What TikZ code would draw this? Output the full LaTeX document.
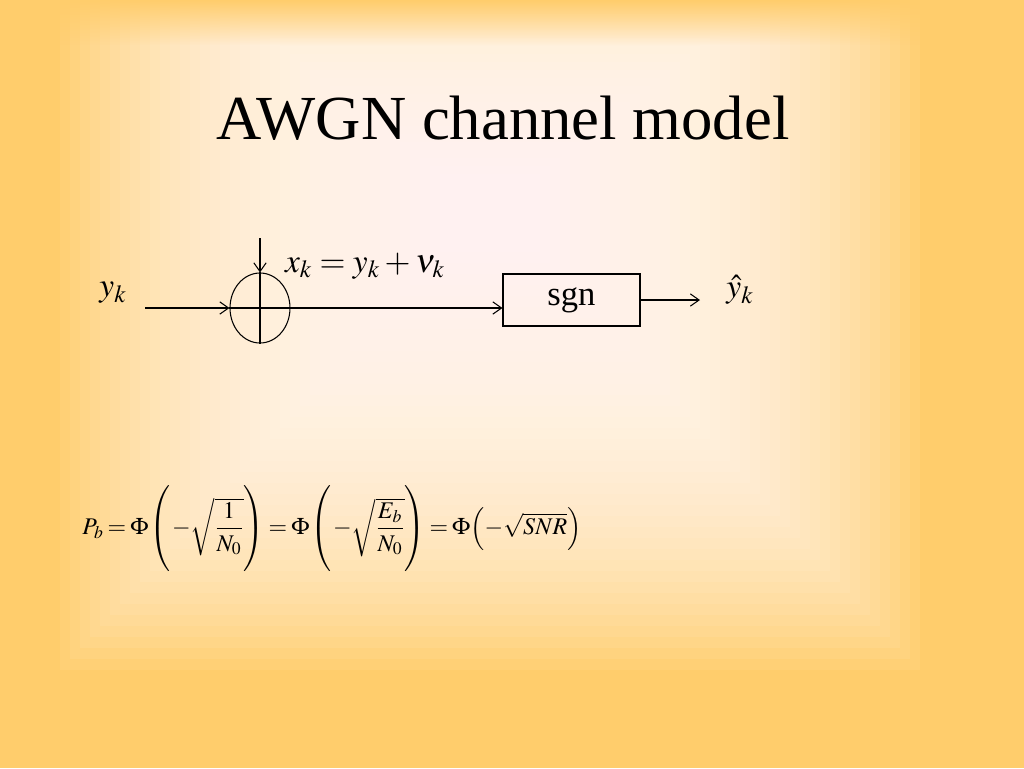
\documentclass[tikz,border=0pt]{standalone}
\usepackage{mathptmx}
\usepackage[no-math]{fontspec}
\setmainfont{Liberation Serif}
\usepackage{color}
\usepackage{tikz}
\usetikzlibrary{arrows,arrows.meta,shapes.geometric,fadings}
\definecolor{slidebg}{RGB}{255,205,108}

\begin{document}
\begin{tikzpicture}[x=0.02cm,y=-0.02cm,->,>={Straight Barb[length=5pt,width=7pt]},line width=0.6pt]
\tikzstyle{every node}=[inner sep=0pt]
\tikzstyle{titletext}=[font=\fontsize{35.7}{40}\selectfont]
\tikzstyle{mathtext}=[font=\fontsize{19}{22}\selectfont]
\tikzstyle{summer}=[draw,ellipse,minimum width=1.2cm,minimum height=1.4cm]
\tikzstyle{blockbox}=[draw,rectangle,minimum width=2.74cm,minimum height=1.04cm]

\useasboundingbox (0,0) rectangle (1024,768);
% slide background
\begin{scope}[-]
\clip (0,0) rectangle (1024,768);
\fill[slidebg] (0,0) rectangle (1024,768);
\foreach \i in {1,...,40}
  \fill[white,opacity=0.07] (490-30-10*\i,200-10-8*\i) rectangle (490+30+10*\i,210+20+11*\i);
\fill[slidebg,path fading=south] (0,0) rectangle (1024,45);
\end{scope}

\node[titletext] (TITLE) at (503,118) {AWGN channel model};

\node[summer] (SUM) at (260,308) {};
\node[blockbox,font=\fontsize{19.7}{22}\selectfont] (SGN) at (571.5,300) {sgn};
\coordinate (IN) at (145,308);
\coordinate (NOISE) at (260,238);
\coordinate (OUT) at (700,300);

\node[mathtext] (Y) at (113,293) {$y_k$};
\node[mathtext] (X) at (365,266) {$x_k = y_k + \nu_k$};
\node[mathtext] (YHAT) at (740,290) {$\hat{y}_k$};

\path (IN) edge (SUM.west)
      (NOISE) edge (SUM.north)
      (SUM.west) edge (SGN.west |- SUM.west)
      (SGN.east) edge (OUT);
\draw[-] (SUM.north) -- (SUM.south);

\node[font=\fontsize{13.6}{17}\selectfont] (PB) at (332,530)
  {\thickmuskip=3mu\medmuskip=2mu\thinmuskip=1mu\def\tallstrut{\vrule height 22.5pt depth 22.5pt width 0pt}%
   $P_b = \Phi\left(\tallstrut\,-\sqrt{\displaystyle\frac{1}{N_0}}\right) = \Phi\left(\tallstrut\,-\sqrt{\displaystyle\frac{E_b}{N_0}}\right) = \Phi\Bigl(-\sqrt{SNR}\Bigr)$};
\end{tikzpicture}
\end{document}
